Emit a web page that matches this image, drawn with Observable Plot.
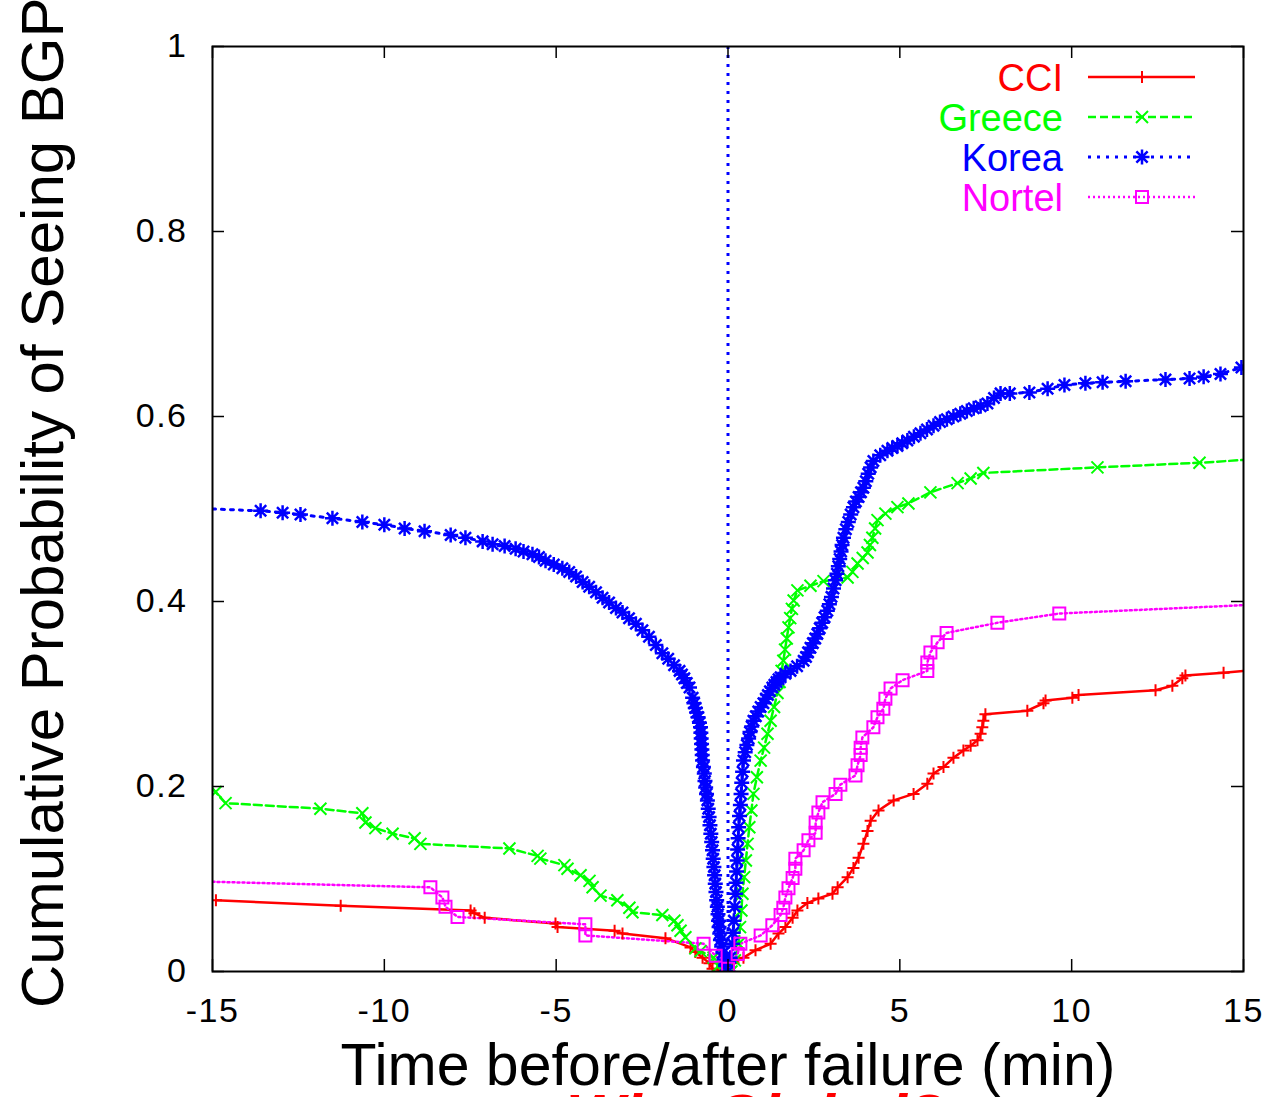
<!DOCTYPE html>
<html><head><meta charset="utf-8">
<script src="https://cdn.jsdelivr.net/npm/d3@7"></script>
<script src="https://cdn.jsdelivr.net/npm/@observablehq/plot@0.6"></script>
<style>
html,body{margin:0;padding:0;background:#fff;}
#chart{position:relative;width:1274px;height:1097px;overflow:hidden;}
</style></head><body><div id="chart"></div>
<script>
// ---- data (minutes relative to failure, cumulative probability) ----
const seriesNames = ["CCI", "Greece", "Korea", "Nortel"];
const seriesColors = ["#ff0000", "#00ff00", "#0000ff", "#ff00ff"];

const cciX = [-14.9, -11.27, -7.49, -7.38, -7.08, -5.02, -4.96, -3.30, -3.07, -1.82, -1.09, -0.95, -0.74, -0.54, -0.45, 0, 0.16, 0.45, 0.80, 1.24, 1.47, 1.67, 1.88, 2.02, 2.31, 2.63, 3.04, 3.19, 3.48, 3.65, 3.80, 3.94, 4.06, 4.15, 4.38, 4.82, 5.40, 5.80, 5.98, 6.27, 6.56, 6.85, 7.06, 7.26, 7.35, 7.40, 7.43, 7.49, 8.71, 9.18, 9.24, 10.02, 10.20, 12.44, 12.93, 13.22, 13.31, 14.42, 15];
const cciY = [0.077, 0.071, 0.066, 0.063, 0.058, 0.052, 0.048, 0.044, 0.041, 0.036, 0.026, 0.021, 0.015, 0.009, 0.003, 0, 0.009, 0.015, 0.023, 0.030, 0.041, 0.048, 0.058, 0.066, 0.074, 0.079, 0.084, 0.091, 0.102, 0.112, 0.123, 0.138, 0.152, 0.163, 0.174, 0.185, 0.192, 0.203, 0.214, 0.221, 0.231, 0.239, 0.244, 0.250, 0.257, 0.264, 0.271, 0.278, 0.282, 0.290, 0.293, 0.296, 0.299, 0.304, 0.309, 0.317, 0.320, 0.323, 0.325];

const greeceX = [-15, -14.91, -14.62, -11.86, -10.64, -10.55, -10.26, -9.76, -9.12, -8.95, -6.36, -5.54, -5.46, -4.76, -4.67, -4.29, -4.03, -3.94, -3.71, -3.22, -2.87, -2.78, -1.91, -1.56, -1.47, -1.38, -1.24, -0.95, -0.80, -0.42, -0.28, -0.16, 0.10, 0.20, 0.31, 0.35, 0.39, 0.42, 0.47, 0.52, 0.57, 0.62, 0.68, 0.74, 0.84, 0.95, 1.05, 1.15, 1.24, 1.34, 1.44, 1.50, 1.56, 1.61, 1.66, 1.71, 1.76, 1.81, 1.86, 1.91, 2.02, 2.40, 2.78, 3.48, 3.62, 3.77, 3.92, 4.06, 4.13, 4.20, 4.28, 4.35, 4.58, 4.93, 5.25, 5.89, 6.68, 7.06, 7.43, 10.75, 13.72, 15];
const greeceY = [0.198, 0.194, 0.182, 0.176, 0.171, 0.161, 0.155, 0.149, 0.144, 0.138, 0.133, 0.125, 0.122, 0.115, 0.111, 0.104, 0.098, 0.091, 0.082, 0.077, 0.069, 0.064, 0.061, 0.055, 0.050, 0.044, 0.037, 0.025, 0.022, 0.015, 0.006, 0, 0, 0.012, 0.030, 0.048, 0.066, 0.084, 0.102, 0.120, 0.138, 0.156, 0.174, 0.192, 0.210, 0.228, 0.242, 0.257, 0.271, 0.286, 0.301, 0.313, 0.325, 0.336, 0.348, 0.360, 0.372, 0.382, 0.392, 0.401, 0.412, 0.417, 0.422, 0.426, 0.432, 0.441, 0.447, 0.453, 0.461, 0.469, 0.479, 0.488, 0.495, 0.502, 0.506, 0.518, 0.528, 0.533, 0.539, 0.545, 0.550, 0.553];

const koreaPts = [
  [-15, 0.500], [-13.60, 0.498], [-12.96, 0.496], [-12.44, 0.494], [-11.51, 0.490], [-10.64, 0.486],
  [-10.00, 0.483], [-9.41, 0.479], [-8.83, 0.476], [-8.07, 0.472], [-7.64, 0.469], [-7.14, 0.465],
  [-6.85, 0.462], [-6.50, 0.460], [-6.18, 0.457], [-5.95, 0.454], [-5.69, 0.451], [-5.50, 0.448],
  [-5.31, 0.444], [-5.07, 0.440], [-4.82, 0.436], [-4.62, 0.432], [-4.42, 0.427], [-4.23, 0.421],
  [-4.04, 0.416], [-3.84, 0.410], [-3.65, 0.404], [-3.46, 0.399], [-3.26, 0.393], [-3.07, 0.388],
  [-2.88, 0.382], [-2.68, 0.376], [-2.49, 0.369], [-2.30, 0.362], [-2.10, 0.353], [-1.91, 0.344],
  [-1.74, 0.338], [-1.57, 0.331], [-1.41, 0.325], [-1.34, 0.321], [-1.27, 0.317], [-1.20, 0.312],
  [-1.12, 0.307], [-1.03, 0.296], [-0.99, 0.290], [-0.95, 0.285], [-0.91, 0.280], [-0.87, 0.275],
  [-0.83, 0.269], [-0.80, 0.264], [-0.79, 0.258], [-0.78, 0.252], [-0.77, 0.246], [-0.76, 0.240],
  [-0.75, 0.234], [-0.74, 0.228], [-0.715, 0.221], [-0.69, 0.214], [-0.67, 0.206], [-0.65, 0.199],
  [-0.625, 0.192], [-0.60, 0.185], [-0.575, 0.176], [-0.55, 0.167], [-0.525, 0.158], [-0.50, 0.149],
  [-0.475, 0.140], [-0.45, 0.131], [-0.43, 0.122], [-0.41, 0.113], [-0.39, 0.104], [-0.37, 0.095],
  [-0.35, 0.086], [-0.33, 0.077], [-0.31, 0.070], [-0.29, 0.062], [-0.275, 0.055], [-0.26, 0.048],
  [-0.24, 0.041], [-0.22, 0.034], [-0.185, 0.027], [-0.15, 0.020], [-0.11, 0.013], [-0.07, 0.006],
  [0, 0], [0.065, 0.015], [0.13, 0.030], [0.15, 0.042], [0.17, 0.055], [0.195, 0.070], [0.22, 0.084],
  [0.235, 0.096], [0.25, 0.108], [0.265, 0.120], [0.28, 0.132], [0.295, 0.144], [0.31, 0.156],
  [0.335, 0.168], [0.36, 0.180], [0.38, 0.192], [0.40, 0.204], [0.425, 0.216], [0.45, 0.228],
  [0.50, 0.237], [0.55, 0.245], [0.60, 0.252], [0.64, 0.259], [0.69, 0.265], [0.74, 0.271],
  [0.81, 0.276], [0.88, 0.281], [0.95, 0.286], [1.03, 0.290], [1.10, 0.295], [1.16, 0.299],
  [1.22, 0.303], [1.29, 0.307], [1.35, 0.310], [1.41, 0.313], [1.47, 0.316], [1.53, 0.318],
  [1.67, 0.322], [1.82, 0.325], [2.01, 0.330], [2.20, 0.336], [2.27, 0.340], [2.33, 0.345],
  [2.40, 0.350], [2.47, 0.355], [2.54, 0.360], [2.60, 0.365], [2.67, 0.371], [2.74, 0.377],
  [2.81, 0.383], [2.89, 0.390], [2.95, 0.397], [3.01, 0.405], [3.07, 0.414], [3.13, 0.423],
  [3.17, 0.430], [3.21, 0.438], [3.25, 0.446], [3.29, 0.454], [3.32, 0.461], [3.36, 0.469],
  [3.43, 0.478], [3.50, 0.486], [3.57, 0.494], [3.65, 0.502], [3.72, 0.508], [3.80, 0.513],
  [3.87, 0.518], [3.94, 0.523], [4.01, 0.530], [4.08, 0.538], [4.15, 0.545], [4.23, 0.552],
  [4.43, 0.558], [4.64, 0.563], [4.78, 0.566], [4.93, 0.568], [5.07, 0.571], [5.22, 0.574],
  [5.41, 0.578], [5.60, 0.582], [5.79, 0.586], [5.98, 0.590], [6.17, 0.594], [6.37, 0.597],
  [6.56, 0.600], [6.76, 0.603], [6.95, 0.606], [7.15, 0.609], [7.35, 0.611], [7.55, 0.614],
  [7.74, 0.620], [7.93, 0.625], [8.20, 0.625], [8.77, 0.626], [9.30, 0.630], [9.79, 0.634],
  [10.40, 0.636], [10.90, 0.637], [11.57, 0.638], [12.73, 0.640], [13.43, 0.641], [13.84, 0.643],
  [14.33, 0.646], [14.94, 0.653], [15, 0.655]
];

const nortelX = [-15, -8.66, -8.31, -8.22, -7.87, -4.15, -4.15, -0.71, -0.36, 0, 0.28, 0.36, 0.95, 1.29, 1.53, 1.61, 1.67, 1.76, 1.88, 1.96, 1.96, 2.20, 2.34, 2.55, 2.55, 2.63, 2.75, 3.13, 3.27, 3.71, 3.77, 3.86, 3.86, 3.91, 4.23, 4.35, 4.52, 4.58, 4.73, 5.08, 5.80, 5.80, 5.89, 6.10, 6.36, 7.84, 9.64, 15];
const nortelY = [0.097, 0.091, 0.080, 0.070, 0.059, 0.051, 0.039, 0.030, 0.017, 0.003, 0.019, 0.030, 0.039, 0.050, 0.061, 0.069, 0.080, 0.090, 0.101, 0.111, 0.122, 0.131, 0.142, 0.150, 0.161, 0.172, 0.183, 0.192, 0.202, 0.212, 0.223, 0.234, 0.242, 0.253, 0.264, 0.275, 0.284, 0.295, 0.306, 0.315, 0.325, 0.334, 0.345, 0.356, 0.366, 0.377, 0.387, 0.396];

const failureX = [0];
const xTicks = [-15, -10, -5, 0, 5, 10, 15];
const yTicks = [0, 0.2, 0.4, 0.6, 0.8, 1];
const xLabel = "Time before/after failure (min)";
const yLabel = "Cumulative Probability of Seeing BGP";
const footText = "Why Global?";

// ---- symbols (gnuplot style point types) ----
const rad = s => Math.sqrt(s / Math.PI);
const symPlus = {draw(c, s) { const r = rad(s); c.moveTo(-r, 0); c.lineTo(r, 0); c.moveTo(0, -r); c.lineTo(0, r); }};
const symTimes = {draw(c, s) { const r = rad(s); c.moveTo(-r, -r); c.lineTo(r, r); c.moveTo(-r, r); c.lineTo(r, -r); }};
const symStar = {draw(c, s) { const r = rad(s); const d = r * 0.75; c.moveTo(-r, 0); c.lineTo(r, 0); c.moveTo(0, -r); c.lineTo(0, r); c.moveTo(-d, -d); c.lineTo(d, d); c.moveTo(-d, d); c.lineTo(d, -d); }};
const symSquare = {draw(c, s) { const r = rad(s); c.moveTo(-r, -r); c.lineTo(r, -r); c.lineTo(r, r); c.lineTo(-r, r); c.closePath(); }};

const toRows = (xs, ys) => xs.map((x, i) => ({x, y: ys[i]}));
const series = [
  {rows: toRows(cciX, cciY), sym: symPlus, r: 6, dash: null, lw: 2.5, sw: 2},
  {rows: toRows(greeceX, greeceY), sym: symTimes, r: 6, dash: "8,4", lw: 2.5, sw: 2},
  {rows: koreaPts.map(([x, y]) => ({x, y})), sym: symStar, r: 7.5, dash: "3,6", lw: 3, sw: 2.5},
  {rows: toRows(nortelX, nortelY), sym: symSquare, r: 6, dash: "2,3", lw: 2.5, sw: 2}
];

const marks = [
  Plot.ruleX(failureX, {stroke: seriesColors[2], strokeWidth: 3, strokeDasharray: "3,6"})
];
series.forEach((s, i) => {
  marks.push(Plot.line(s.rows, {x: "x", y: "y", stroke: seriesColors[i], strokeWidth: s.lw, strokeDasharray: s.dash, clip: true}));
});
series.forEach((s, i) => {
  marks.push(Plot.dot(s.rows.filter(d => Math.abs(d.x) < 15), {x: "x", y: "y", symbol: s.sym, r: s.r, stroke: seriesColors[i], fill: "none", strokeWidth: s.sw, clip: true}));
});
marks.push(
  Plot.frame({stroke: "#000", strokeWidth: 2}),
  Plot.ruleX(xTicks, {stroke: "#000", strokeWidth: 1.5, insetTop: 913}),
  Plot.ruleX(xTicks, {stroke: "#000", strokeWidth: 1.5, insetBottom: 913}),
  Plot.ruleY(yTicks, {stroke: "#000", strokeWidth: 1.5, insetRight: 1019}),
  Plot.ruleY(yTicks, {stroke: "#000", strokeWidth: 1.5, insetLeft: 1019}),
  Plot.axisX(xTicks, {tickSize: 0, tickPadding: 26, fontSize: 34, label: null, tickFormat: d => String(d)}),
  Plot.axisY(yTicks, {tickSize: 0, tickPadding: 25, fontSize: 34, label: null, tickFormat: d => String(d)})
);

const chart = Plot.plot({
  width: 1274, height: 1097,
  marginLeft: 212, marginRight: 31, marginTop: 46, marginBottom: 126,
  x: {domain: [-15, 15]},
  y: {domain: [0, 1]},
  style: {fontFamily: '"Liberation Sans", Arial, sans-serif', background: "#fff", color: "#000", overflow: "hidden"},
  marks
});
document.getElementById("chart").appendChild(chart);

const svg = d3.select(chart);
svg.selectAll("g[aria-label='x-axis tick label'] text, g[aria-label='y-axis tick label'] text")
  .style("letter-spacing", "1.5px");
const FF = '"Liberation Sans", Arial, sans-serif';
svg.append("text")
  .attr("x", 566).attr("y", 1137)
  .attr("text-anchor", "start")
  .attr("font-size", 62).attr("font-weight", "bold").attr("font-style", "italic")
  .attr("fill", "#ff0000").attr("font-family", FF)
  .text(footText);
svg.append("text")
  .attr("x", 728).attr("y", 1085)
  .attr("text-anchor", "middle")
  .attr("font-size", 59).attr("fill", "#000").attr("font-family", FF)
  .text(xLabel);
svg.append("text")
  .attr("transform", "translate(63,1008) rotate(-90)")
  .attr("text-anchor", "start")
  .attr("font-size", 60).attr("fill", "#000").attr("font-family", FF)
  .text(yLabel);

// legend inside plot (top right)
const leg = svg.append("g");
seriesNames.forEach((name, i) => {
  const cy = 77 + i * 40;
  const s = series[i];
  leg.append("text").attr("x", 1063).attr("y", cy + 14)
    .attr("text-anchor", "end").attr("font-size", 38).attr("font-family", FF)
    .attr("fill", seriesColors[i]).text(name);
  leg.append("line").attr("x1", 1088).attr("x2", 1195).attr("y1", cy).attr("y2", cy)
    .attr("stroke", seriesColors[i]).attr("stroke-width", s.lw)
    .attr("stroke-dasharray", s.dash);
  leg.append("path").attr("transform", `translate(1142,${cy})`)
    .attr("d", d3.symbol(s.sym, s.r * s.r * Math.PI)())
    .attr("fill", "none").attr("stroke", seriesColors[i]).attr("stroke-width", s.sw);
});
</script></body></html>
